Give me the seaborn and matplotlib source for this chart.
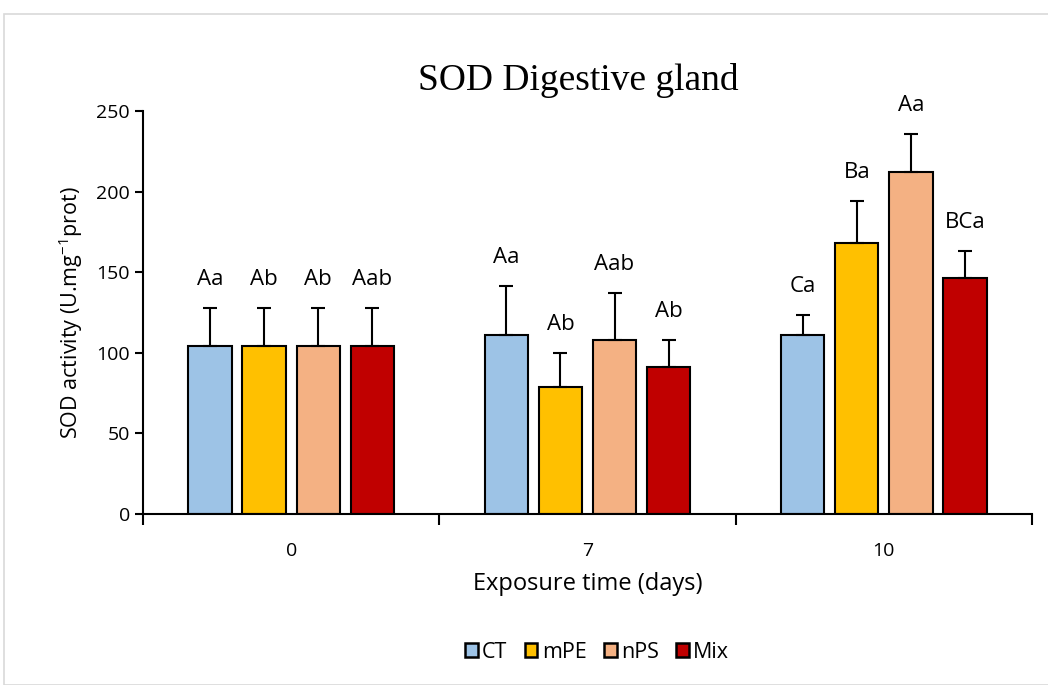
import numpy as np
import pandas as pd
import matplotlib
matplotlib.use("Agg")
import matplotlib.pyplot as plt
from matplotlib.patches import Rectangle
import seaborn as sns

days = ["0", "7", "10"]
groups = ["CT", "mPE", "nPS", "Mix"]
colors = ["#9DC3E6", "#FFC000", "#F4B183", "#C00000"]
means = {
    "CT":  [104, 111, 111],
    "mPE": [104, 79, 168],
    "nPS": [104, 108, 212],
    "Mix": [104, 91, 146.5],
}
errors = {
    "CT":  [24, 30.5, 12.4],
    "mPE": [24, 21, 26.4],
    "nPS": [24, 29, 24],
    "Mix": [24, 17, 16.8],
}
letters = {
    "CT":  ["Aa", "Aa", "Ca"],
    "mPE": ["Ab", "Ab", "Ba"],
    "nPS": ["Ab", "Aab", "Aa"],
    "Mix": ["Aab", "Ab", "BCa"],
}

rows = []
for g in groups:
    for i, d in enumerate(days):
        rows.append({"day": d, "group": g, "value": means[g][i]})
df = pd.DataFrame(rows)

sns.set_style("white")
plt.rcParams["font.family"] = ["Open Sans", "DejaVu Sans"]
plt.rcParams["text.color"] = "black"
plt.rcParams["axes.labelcolor"] = "black"
plt.rcParams["xtick.color"] = "black"
plt.rcParams["ytick.color"] = "black"

fig = plt.figure(figsize=(10.48, 6.85), dpi=100)
ax = fig.add_axes([143/1048, 1-514/685, (1032-143)/1048, (514-111)/685])

sns.barplot(data=df, x="day", y="value", hue="group", order=days, hue_order=groups,
            palette=colors, saturation=1, width=0.73, gap=0.2, edgecolor="black",
            linewidth=1.5, errorbar=None, legend=False, ax=ax)

for gi, g in enumerate(groups):
    container = ax.containers[gi]
    xs = [p.get_x() + p.get_width()/2 for p in container.patches]
    ax.errorbar(xs, means[g], yerr=[np.zeros(3), errors[g]], fmt="none",
                ecolor="black", elinewidth=1.5, capsize=5, capthick=1.5, zorder=1)
    for x, m, e, lab in zip(xs, means[g], errors[g], letters[g]):
        ax.annotate(lab, (x, m + e), xytext=(0, 18), textcoords="offset pixels",
                    ha="center", va="bottom", fontsize=16, color="black")

ax.set_xlim(-0.5, 2.5)
ax.set_ylim(0, 250)
ax.set_yticks([0, 50, 100, 150, 200, 250])
ax.set_xticks([0, 1, 2])
ax.set_xticklabels(days)
ax.set_xticks([-0.5, 0.5, 1.5, 2.5], minor=True)
ax.tick_params(axis="x", which="major", length=0, labelsize=14, pad=20, labelcolor="black")
ax.tick_params(axis="x", which="minor", length=8, width=1.5, direction="out", color="black")
ax.tick_params(axis="y", which="major", length=6, width=1.5, direction="out", labelsize=14,
               color="black", labelcolor="black")
ax.yaxis.set_ticks_position("left")
ax.xaxis.set_ticks_position("bottom")

for s in ["top", "right"]:
    ax.spines[s].set_visible(False)
for s in ["left", "bottom"]:
    ax.spines[s].set_color("black")
    ax.spines[s].set_linewidth(1.5)

ax.set_xlabel("Exposure time (days)", fontsize=17, labelpad=9, color="black")
ax.set_ylabel("SOD activity (U.mg$^{\\mathregular{-1}}$prot)", fontsize=15.5, labelpad=8, color="black")

fig.text(578/1048, 1-80/685, "SOD Digestive gland", ha="center", va="center",
         fontsize=27, family="Liberation Serif", color="black")

handles = [Rectangle((0, 0), 1, 1, facecolor=c, edgecolor="black", linewidth=1.8) for c in colors]
fig.legend(handles, groups, loc="center", bbox_to_anchor=(597/1048, 1-652/685), ncol=4,
           frameon=False, fontsize=15.5, handlelength=0.6, handleheight=0.6,
           handletextpad=0.2, columnspacing=0.8, labelcolor="black")

border = Rectangle((4/1048, 0), 1.1, 1-14/685, transform=fig.transFigure, fill=False,
                   edgecolor="#D9D9D9", linewidth=1.2)
fig.add_artist(border)

fig.savefig("out.png", dpi=100)
